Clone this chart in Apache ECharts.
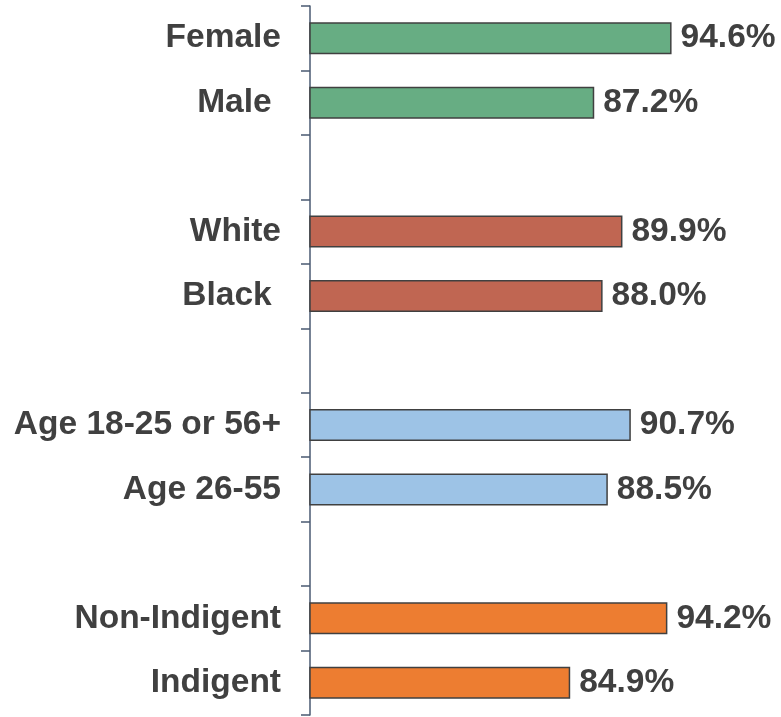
<!DOCTYPE html>
<html><head><meta charset="utf-8">
<script src="https://cdn.jsdelivr.net/npm/echarts@6/dist/echarts.min.js"></script>
<style>html,body{margin:0;padding:0;background:#fff}#c{width:781px;height:717px}</style>
</head><body><div id="c"></div>
<script>
const categories = ['Female','Male ','','White','Black ','','Age 18-25 or 56+','Age 26-55','','Non-Indigent','Indigent'];
const values = [94.6, 87.2, null, 89.9, 88.0, null, 90.7, 88.5, null, 94.2, 84.9];
const barColors = ['#67ad83','#67ad83',null,'#c06652','#c06652',null,'#9dc3e6','#9dc3e6',null,'#ed7d31','#ed7d31'];

const data = values.map((v,i)=> v==null ? '-' : {value:v, itemStyle:{color:barColors[i]}});
const chart = echarts.init(document.getElementById('c'));
chart.setOption({
  animation:false,
  grid:{left:310,right:53,top:6,bottom:2,containLabel:false},
  xAxis:{type:'value',min:60,max:100,show:false},
  yAxis:{type:'category',inverse:true,data:categories,
    axisLine:{lineStyle:{color:'#4a5a72',width:1.5}},
    axisTick:{show:true,interval:0,length:9,lineStyle:{color:'#4a5a72',width:1.5}},
    axisLabel:{interval:0,margin:29,padding:[4,0,0,0],fontFamily:'Liberation Sans, Arial',fontWeight:'bold',fontSize:33.5,color:'#404040'},
    splitLine:{show:false}},
  series:[{type:'bar',data:data,barWidth:32,
    itemStyle:{borderColor:'#404040',borderWidth:1.5},
    label:{show:true,position:'right',distance:9,padding:[4,0,0,0],fontFamily:'Liberation Sans, Arial',fontWeight:'bold',fontSize:33.5,color:'#404040',
      formatter:p=>p.value.toFixed(1)+'%'}}]
});
</script></body></html>
